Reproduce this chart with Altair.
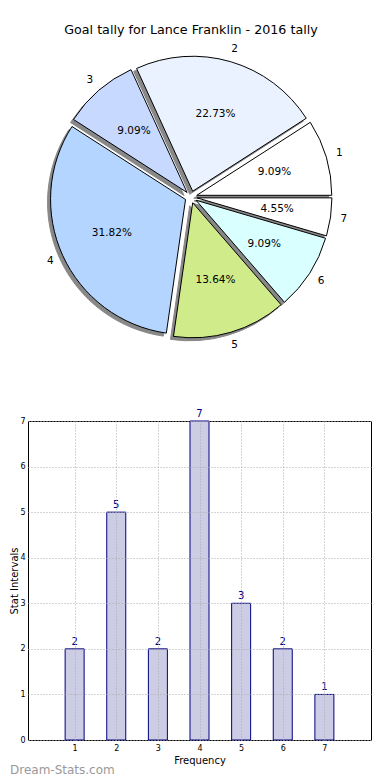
import altair as alt
import pandas as pd

# ---- data ----
cats = [1, 2, 3, 4, 5, 6, 7]
counts = [2, 5, 2, 7, 3, 2, 1]
slice_colors = ["#ffffff", "#eaf2ff", "#c7d9ff", "#b3d5ff", "#d0eb8a", "#d9ffff", "#ffffff"]
y_ticks = [0, 1, 2, 3, 4, 5, 6, 7]
title_text = "Goal tally for Lance Franklin - 2016 tally"
x_title = "Frequency"
y_title = "Stat Intervals"
watermark = "Dream-Stats.com"

df = pd.DataFrame({"cat": cats, "count": counts})
one = pd.DataFrame({"t": [title_text], "w": [watermark]})

# ---- pie geometry (pixels, relative to the shared left origin) ----
CX, CY, R, E, SH = 163, 189, 135, 6, 3
BW, BH = 343, 319

base = (
    alt.Chart(df)
    .transform_window(cum="sum(count)", sort=[alt.SortField("cat")], frame=[None, 0])
    .transform_joinaggregate(total="sum(count)")
    .transform_calculate(
        t0="2.5*PI - 2*PI*(datum.cum - datum.count)/datum.total",
        t1="2.5*PI - 2*PI*datum.cum/datum.total",
        pct="format(100*datum.count/datum.total, '.2f') + '%'",
        lab="'' + datum.cat",
    )
    .transform_calculate(mid="(datum.t0 + datum.t1)/2")
    .transform_calculate(
        ex=f"{CX} + {E}*sin(datum.mid)",
        ey=f"{CY} - {E}*cos(datum.mid)",
    )
    .transform_calculate(
        sx=f"datum.ex - {SH}",
        sy=f"datum.ey + {SH}",
        lx=f"datum.ex + {1.1 * R}*sin(datum.mid)",
        ly=f"datum.ey - {1.1 * R}*cos(datum.mid)",
        px=f"datum.ex + {0.6 * R}*sin(datum.mid)",
        py=f"datum.ey - {0.6 * R}*cos(datum.mid)",
    )
)

shadow = base.mark_arc(radius=R, fill="#888888", stroke="#888888", strokeWidth=1).encode(
    x=alt.X("sx:Q", scale=None),
    y=alt.Y("sy:Q", scale=None),
    theta=alt.Theta("t0:Q", scale=None, stack=None),
    theta2="t1:Q",
)

arcs = base.mark_arc(radius=R, stroke="black", strokeWidth=1).encode(
    x=alt.X("ex:Q", scale=None),
    y=alt.Y("ey:Q", scale=None),
    theta=alt.Theta("t0:Q", scale=None, stack=None),
    theta2="t1:Q",
    color=alt.Color("cat:N", scale=alt.Scale(domain=cats, range=slice_colors), legend=None),
)

outer_labels = base.mark_text(fontSize=10.5, color="black", align="center", baseline="middle").encode(
    x=alt.X("lx:Q", scale=None),
    y=alt.Y("ly:Q", scale=None),
    text="lab:N",
)

pct_labels = base.mark_text(fontSize=10.5, color="black", align="center", baseline="middle").encode(
    x=alt.X("px:Q", scale=None),
    y=alt.Y("py:Q", scale=None),
    text="pct:N",
)

pie_title = alt.Chart(one).mark_text(fontSize=12.7, color="black", align="center", baseline="middle").encode(
    x=alt.value(CX), y=alt.value(22), text="t:N"
)

pie = alt.layer(shadow, arcs, outer_labels, pct_labels, pie_title).properties(width=BW, height=380)

# ---- bar chart ----
bar_base = alt.Chart(df)
xenc = alt.X(
    "cat:Q",
    scale=alt.Scale(domain=[0, 8], nice=False, zero=False),
    axis=alt.Axis(
        values=cats, title=x_title, grid=True, gridDash=[1, 2], gridColor="#aaaaaa",
        domain=False, ticks=False, labelFontSize=8, labelPadding=4, titleFontSize=10,
        titleFontWeight="normal", titlePadding=3, zindex=1, labelColor="black", titleColor="black",
    ),
)
yenc = alt.Y(
    "count:Q",
    scale=alt.Scale(domain=[0, 7], nice=False),
    axis=alt.Axis(
        values=y_ticks, title=y_title, grid=True, gridDash=[1, 2], gridColor="#aaaaaa",
        domain=False, ticks=False, labelFontSize=8, labelPadding=3, titleFontSize=10,
        titleFontWeight="normal", titleX=-9, titleY=BH / 2, titleAlign="center",
        titleBaseline="bottom", zindex=1, labelColor="black", titleColor="black",
    ),
)

bars = bar_base.mark_bar(size=19, fill="#cccce4", stroke="#000080", strokeWidth=1).encode(x=xenc, y=yenc)
bar_text = bar_base.mark_text(dy=-2, baseline="bottom", color="#000080", fontSize=10).encode(
    x="cat:Q", y="count:Q", text="count:Q"
)
wm = alt.Chart(one).mark_text(
    align="left", baseline="middle", fontSize=12, color="#999999"
).encode(x=alt.value(-18), y=alt.value(349), text="w:N")

bar_chart = alt.layer(bars, bar_text, wm).properties(
    width=BW, height=BH, view=alt.ViewBackground(stroke="black", strokeWidth=1)
)

chart = (
    alt.vconcat(pie, bar_chart, spacing=33, bounds="flush")
    .properties(padding={"left": 0, "top": 0, "right": 0, "bottom": 0})
    .configure(font="DejaVu Sans")
    .configure_view(stroke=None)
)

chart.save("out.html", embed_options={"renderer": "svg", "actions": False})
